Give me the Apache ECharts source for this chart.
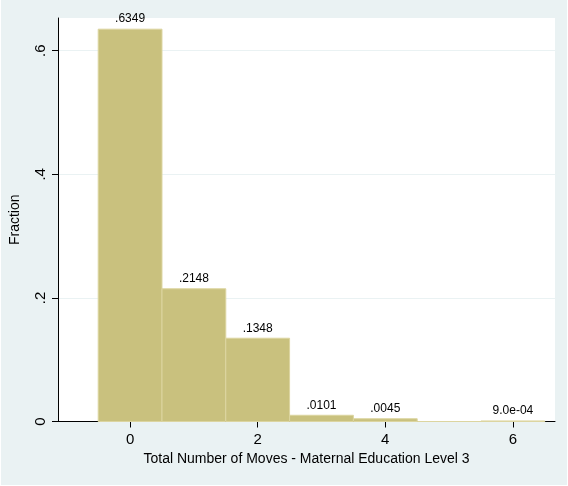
<!DOCTYPE html>
<html><head><meta charset="utf-8">
<script src="https://cdn.jsdelivr.net/npm/echarts@6/dist/echarts.min.js"></script>
<style>html,body{margin:0;padding:0;background:#ffffff;}#c{width:568px;height:486px;}</style>
</head><body><div id="c"></div>
<script>
var moves = [0, 1, 2, 3, 4, 5, 6];
var fractions = [0.6349, 0.2148, 0.1348, 0.0101, 0.0045, 0, 0.0009];
var barLabels = ['.6349', '.2148', '.1348', '.0101', '.0045', '', '9.0e-04'];
var xTicks = [0, 2, 4, 6];
var yTicks = [0, 0.2, 0.4, 0.6];
var yTickLabels = ['0', '.2', '.4', '.6'];

var FONT = 'Liberation Sans, Arial, sans-serif';
var chart = echarts.init(document.getElementById('c'));
var data = moves.map(function (m, i) { return [m, fractions[i]]; });

chart.setOption({
  backgroundColor: '#ffffff',
  animation: false,
  graphic: [{ type: 'rect', z: -100, silent: true, shape: { x: 1, y: 0, width: 566, height: 485 }, style: { fill: '#eaf2f3' } }],
  grid: { left: 58, right: 13, top: 18, bottom: 64.5, show: true, backgroundColor: '#ffffff', borderWidth: 0,
          containLabel: false, outerBoundsMode: 'none' },
  xAxis: {
    type: 'value', min: -1.13, max: 6.66,
    name: 'Total Number of Moves - Maternal Education Level 3',
    nameLocation: 'middle', nameGap: 31,
    nameTextStyle: { fontFamily: FONT, fontSize: 14, color: '#000' },
    axisLine: { show: true, onZero: false, lineStyle: { color: '#000', width: 1 } },
    axisTick: { show: true, length: 6, customValues: xTicks, lineStyle: { color: '#000' } },
    axisLabel: { customValues: xTicks, fontFamily: FONT, fontSize: 15, color: '#000', margin: 11 },
    splitLine: { show: false }
  },
  yAxis: {
    type: 'value', min: 0, max: 0.653,
    name: 'Fraction', nameLocation: 'middle', nameGap: 36,
    nameTextStyle: { fontFamily: FONT, fontSize: 14, color: '#000' },
    axisLine: { show: true, onZero: false, lineStyle: { color: '#000', width: 1 } },
    axisTick: { show: true, length: 6, customValues: yTicks, lineStyle: { color: '#000' } },
    axisLabel: {
      customValues: yTicks, rotate: 90, fontFamily: FONT, fontSize: 15, color: '#000', margin: 10,
      formatter: function (v) { var i = yTicks.indexOf(Math.round(v * 10) / 10); return i >= 0 ? yTickLabels[i] : ''; }
    },
    splitLine: { show: true, lineStyle: { color: '#eaf2f3', width: 1 } }
  },
  series: [{
    type: 'custom',
    data: data,
    encode: { x: 0, y: 1 },
    renderItem: function (params, api) {
      var x = api.value(0), y = api.value(1);
      var p0 = api.coord([x - 0.5, y]);
      var p1 = api.coord([x + 0.5, 0]);
      var children = [{
        type: 'rect',
        shape: { x: p0[0], y: p0[1], width: p1[0] - p0[0], height: p1[1] - p0[1] },
        style: { fill: '#c9c17e', stroke: '#dcd5a0', lineWidth: 1 }
      }];
      var lbl = barLabels[params.dataIndex];
      if (lbl) {
        children.push({
          type: 'text',
          style: { text: lbl, x: (p0[0] + p1[0]) / 2, y: p0[1] - 4, align: 'center', verticalAlign: 'bottom',
                   fontFamily: FONT, fontSize: 12, fill: '#000' }
        });
      }
      return { type: 'group', children: children };
    }
  }]
});
</script></body></html>
